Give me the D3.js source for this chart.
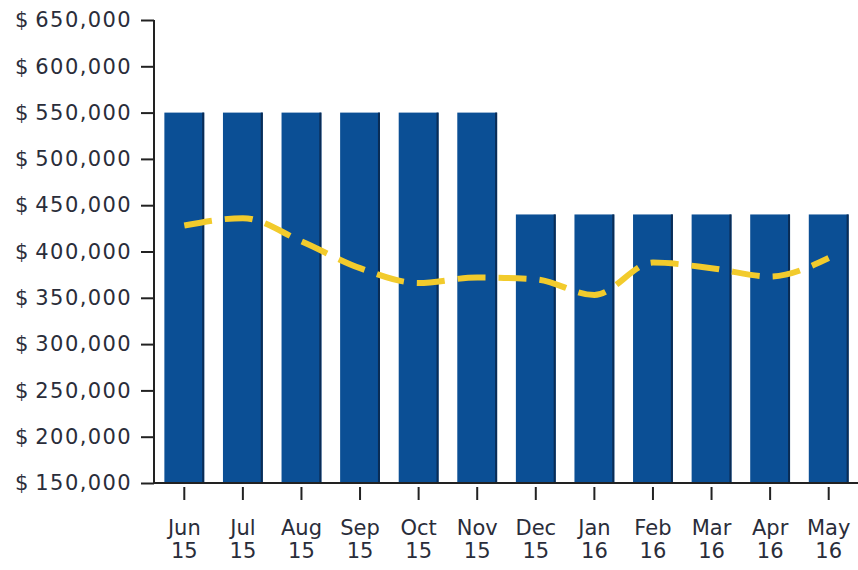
<!DOCTYPE html>
<html><head><meta charset="utf-8">
<script src="https://cdn.jsdelivr.net/npm/d3@7"></script>
<style>
html,body{margin:0;padding:0;background:#fff;}
svg{display:block;}
text{font-family:"DejaVu Sans",sans-serif;fill:#2a2d3a;}
</style></head>
<body>
<svg id="c" width="858" height="570"></svg>
<script>
const months = ["Jun","Jul","Aug","Sep","Oct","Nov","Dec","Jan","Feb","Mar","Apr","May"];
const years  = ["15","15","15","15","15","15","15","16","16","16","16","16"];
const barValues  = [550000,550000,550000,550000,550000,550000,440000,440000,440000,440000,440000,440000];
const lineValues = [428000,436000,411000,382000,366000,372000,370000,353000,388000,382000,373000,393000];
const yTicks = [150000,200000,250000,300000,350000,400000,450000,500000,550000,600000,650000];

const svg = d3.select("#c");
const x0 = 155, x1 = 858, yTop = 20, yBot = 483;
const keys = months.map((m,i)=>i);
const x = d3.scaleBand().domain(keys).range([x0,x1]).paddingInner(0.32).paddingOuter(0.16);
const y = d3.scaleLinear().domain([150000,650000]).range([yBot,yTop]);

// bars
const g = svg.append("g");
g.selectAll("rect.bar").data(barValues).enter().append("rect")
  .attr("class","bar")
  .attr("x",(d,i)=>x(i)).attr("width",x.bandwidth())
  .attr("y",d=>y(d)).attr("height",d=>yBot-y(d))
  .attr("fill","#0b4f95");
g.selectAll("rect.edge").data(barValues).enter().append("rect")
  .attr("x",(d,i)=>x(i)+x.bandwidth()-2).attr("width",2)
  .attr("y",d=>y(d)).attr("height",d=>yBot-y(d))
  .attr("fill","#0a2c55");

// line
const line = d3.line().x((d,i)=>x(i)+x.bandwidth()/2).y(d=>y(d)).curve(d3.curveMonotoneX);
svg.append("path").datum(lineValues).attr("d",line)
  .attr("fill","none").attr("stroke","#f2cb2c").attr("stroke-width",6)
  .attr("stroke-dasharray","28,13");

// y axis
const fmt = d => "$\u2009" + d3.format(",")(d);
const ya = svg.append("g").attr("transform",`translate(${x0-1},0)`)
  .call(d3.axisLeft(y).tickValues(yTicks).tickFormat(fmt).tickSize(13).tickPadding(9));
ya.select(".domain").attr("stroke","#222").attr("stroke-width",2).attr("d",`M0,${yTop}V${yBot}`);
ya.selectAll(".tick line").attr("stroke","#222").attr("stroke-width",2);
ya.selectAll(".tick text").attr("font-size",21).attr("font-family","DejaVu Sans").attr("fill","#2a2d3a").attr("letter-spacing","1.4px");

// x axis
const xa = svg.append("g").attr("transform",`translate(0,${yBot})`)
  .call(d3.axisBottom(x).tickSize(0).tickFormat(""));
xa.select(".domain").attr("stroke","#222").attr("stroke-width",2).attr("d",`M${x0-2},0H${x1}`);
xa.selectAll(".tick").append("line").attr("y1",4).attr("y2",17).attr("stroke","#222").attr("stroke-width",2);
const lab = xa.selectAll(".tick").append("text").attr("text-anchor","middle")
  .attr("font-size",21).attr("fill","#2a2d3a");
lab.append("tspan").attr("x",0).attr("y",52).text((d,i)=>months[i]);
lab.append("tspan").attr("x",0).attr("y",75).text((d,i)=>years[i]);
</script>
</body></html>
